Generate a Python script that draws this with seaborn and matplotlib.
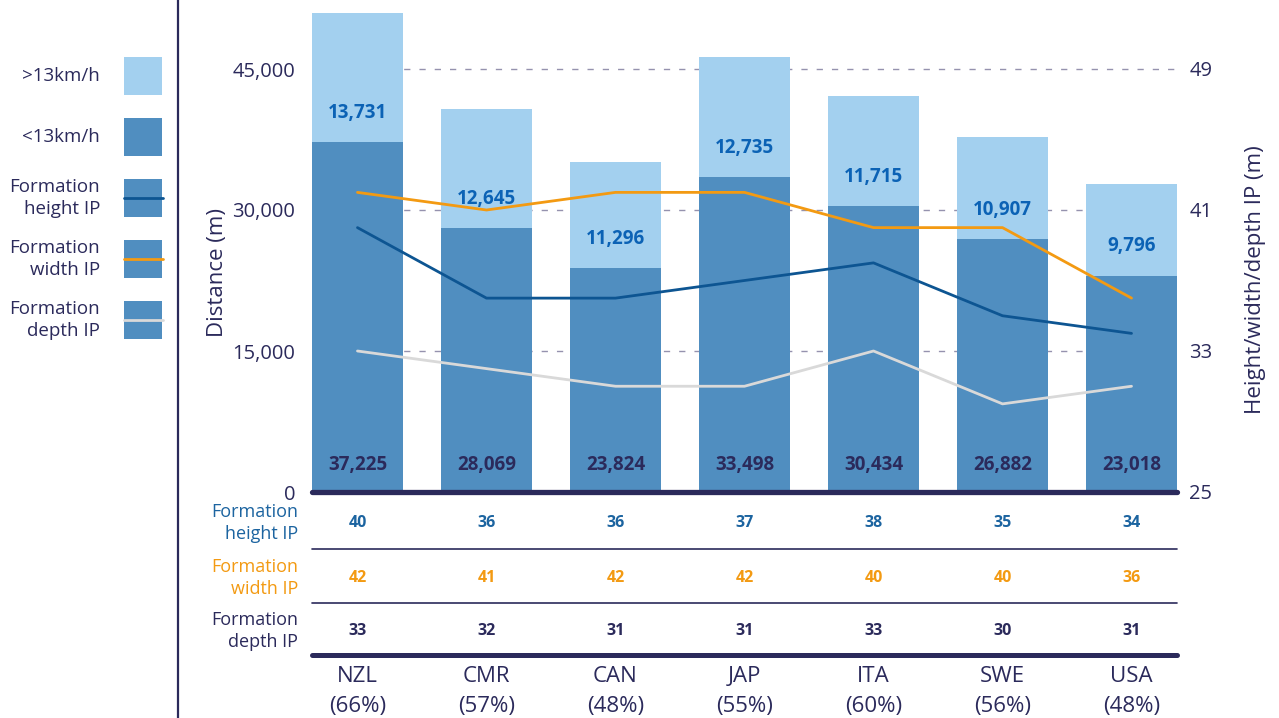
import numpy as np
import pandas as pd
import matplotlib
matplotlib.use("Agg")
import matplotlib.pyplot as plt
import seaborn as sns
from matplotlib.patches import Rectangle
from matplotlib.lines import Line2D

# ---- data ----
teams = ["NZL", "CMR", "CAN", "JAP", "ITA", "SWE", "USA"]
possession = ["66%", "57%", "48%", "55%", "60%", "56%", "48%"]
dist_slow = [37225, 28069, 23824, 33498, 30434, 26882, 23018]   # <13km/h
dist_fast = [13731, 12645, 11296, 12735, 11715, 10907, 9796]    # >13km/h
height_ip = [40, 36, 36, 37, 38, 35, 34]
width_ip = [42, 41, 42, 42, 40, 40, 36]
depth_ip = [33, 32, 31, 31, 33, 30, 31]
dist_ticks = [0, 15000, 30000, 45000]
ip_ticks = [25, 33, 41, 49]

# ---- style ----
LIGHT = "#a3d0ef"
MID = "#508ec0"
NAVY = "#2b2a5b"
VAL_BLUE = "#0b62b5"
H_LINE = "#0d5592"
H_TEXT = "#1c64a0"
ORANGE = "#f39a12"
GREY = "#d9d9d9"
GRID = "#9592ae"

sns.set_theme(style="white")
plt.rcParams["font.family"] = ["Open Sans", "DejaVu Sans"]

W, H = 1279, 718
fig = plt.figure(figsize=(W / 100, H / 100), dpi=100)


def fx(px):
    return px / W


def fy(py):
    return 1 - py / H


AX_L, AX_R, AX_B = 312, 1177, 492
BAR_W = 0.705
half = BAR_W / 2

ax = fig.add_axes([fx(AX_L), fy(AX_B), fx(AX_R) - fx(AX_L), fy(0) - fy(AX_B)])

df = pd.DataFrame({"team": teams, "slow": dist_slow, "fast": dist_fast})
df["total"] = df["slow"] + df["fast"]

sns.barplot(data=df, x="team", y="total", color=LIGHT, width=BAR_W,
            saturation=1, ax=ax, zorder=2, linewidth=0, edgecolor="none")
sns.barplot(data=df, x="team", y="slow", color=MID, width=BAR_W,
            saturation=1, ax=ax, zorder=2, linewidth=0, edgecolor="none")

px_per_unit = 141 / 15000
ax.set_xlim(-half, len(teams) - 1 + half)
ax.set_ylim(0, AX_B / px_per_unit)
ax.set_yticks(dist_ticks)
ax.set_yticklabels([f"{v:,}" for v in dist_ticks])
ax.tick_params(axis="y", length=0, pad=12, labelsize=14.5, labelcolor=NAVY)
ax.tick_params(axis="x", bottom=False, labelbottom=False)
ax.set_xlabel("")
ax.set_ylabel("")
ax.yaxis.grid(True, color=GRID, lw=1.0, ls=(0, (4.5, 6.5)))
ax.set_axisbelow(True)
for s in ax.spines.values():
    s.set_visible(False)

# bar value labels
for i, (s, f) in enumerate(zip(dist_slow, dist_fast)):
    ax.annotate(f"{f:,}", xy=(i, s), xytext=(0, 21), textcoords="offset points",
                ha="center", va="center", fontsize=13.5, fontweight="bold",
                color=VAL_BLUE, zorder=5)
    ax.annotate(f"{s:,}", xy=(i, 0), xytext=(0, 19.5), textcoords="offset points",
                ha="center", va="center", fontsize=13.5, fontweight="bold",
                color=NAVY, zorder=5)

# IP lines on the secondary axis
ax2 = ax.twinx()
ip_per_px = 8 / 141
ax2.set_ylim(25, 25 + AX_B * ip_per_px)
xs = np.arange(len(teams))
sns.lineplot(x=xs, y=depth_ip, ax=ax2, color=GREY, lw=2.0)
sns.lineplot(x=xs, y=height_ip, ax=ax2, color=H_LINE, lw=2.0)
sns.lineplot(x=xs, y=width_ip, ax=ax2, color=ORANGE, lw=2.0)
ax2.set_yticks(ip_ticks)
ax2.tick_params(axis="y", length=0, pad=9, labelsize=14.5, labelcolor=NAVY)
ax2.set_ylabel("")
for s in ax2.spines.values():
    s.set_visible(False)
ax2.grid(False)

# axis titles
fig.text(fx(217), fy(272), "Distance (m)", rotation=90, ha="center", va="center",
         fontsize=16, color=NAVY)
fig.text(fx(1255), fy(280), "Height/width/depth IP (m)", rotation=90,
         ha="center", va="center", fontsize=16, color=NAVY)

# ---- table under the bars ----
TB = 655
tab = fig.add_axes([fx(AX_L), fy(TB), fx(AX_R) - fx(AX_L), fy(AX_B) - fy(TB)])
tab.set_xlim(-half, len(teams) - 1 + half)
tab.set_ylim(TB - AX_B, 0)
tab.set_facecolor("none")
for s in tab.spines.values():
    s.set_visible(False)
tab.set_yticks([])
tab.set_xticks(xs)
tab.set_xticklabels([f"{t}\n({p})" for t, p in zip(teams, possession)],
                    fontsize=16, color=NAVY, linespacing=1.55)
tab.tick_params(axis="x", length=0, pad=8)
tab.grid(False)

tab.axhline(0, color=NAVY, lw=3.8, clip_on=False)
tab.axhline(TB - AX_B, color=NAVY, lw=3.6, clip_on=False)
for yy in (57, 111):
    tab.axhline(yy, color=NAVY, lw=1.2, clip_on=False)

rows = [(height_ip, H_TEXT, 31, "Formation\nheight IP"),
        (width_ip, ORANGE, 86, "Formation\nwidth IP"),
        (depth_ip, NAVY, 139, "Formation\ndepth IP")]
for vals, col, yy, lab in rows:
    for i, v in enumerate(vals):
        tab.text(i, yy, str(v), ha="center", va="center", fontsize=11.5,
                 fontweight="bold", color=col)
    fig.text(fx(298), fy(AX_B + yy), lab, ha="right", va="center",
             fontsize=13, color=col, linespacing=1.22)

# ---- legend panel ----
fig.add_artist(Line2D([fx(178), fx(178)], [0, 1], transform=fig.transFigure,
                      color=NAVY, lw=1.6))
legend_items = [
    (">13km/h", LIGHT, None, 57),
    ("<13km/h", MID, None, 118),
    ("Formation\nheight IP", MID, H_LINE, 179),
    ("Formation\nwidth IP", MID, ORANGE, 240),
    ("Formation\ndepth IP", MID, GREY, 301),
]
for lab, fc, lc, top in legend_items:
    fig.add_artist(Rectangle((fx(124), fy(top + 38)), fx(38), 38 / H,
                             transform=fig.transFigure, facecolor=fc,
                             edgecolor="none"))
    if lc is not None:
        fig.add_artist(Line2D([fx(124), fx(163)], [fy(top + 19)] * 2,
                              transform=fig.transFigure, color=lc, lw=2.0))
    fig.text(fx(100), fy(top + 19), lab, ha="right", va="center",
             fontsize=13.5, color=NAVY, linespacing=1.22)

fig.savefig("out.png", dpi=100)
